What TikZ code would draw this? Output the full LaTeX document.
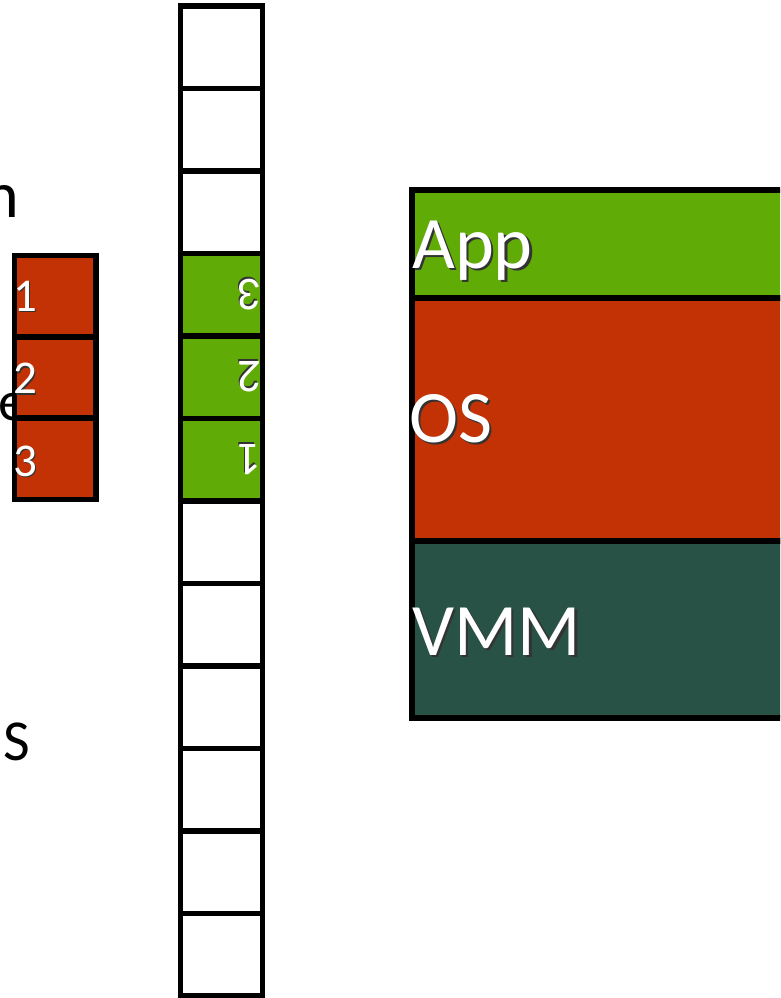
\documentclass[tikz,border=0pt]{standalone}
\usepackage{fontspec}
\setmainfont{Carlito}

\definecolor{appgreen}{HTML}{60AB05}
\definecolor{osred}{HTML}{C33205}
\definecolor{vmmgreen}{HTML}{285246}

% white text with a dark drop shadow
\newcommand{\shadowtxt}[1]{\rlap{\kern0.035em\raisebox{-0.035em}{\color{black!80}#1}}#1}

\tikzset{
  cell/.style={draw=black, line width=5.5pt},
  layer/.style={draw=black, line width=6pt},
  biglabel/.style={text=white, inner sep=0pt, font=\fontsize{74}{88}\selectfont},
  numlabel/.style={text=white, inner sep=0pt, font=\fontsize{47}{56}\selectfont},
  cutlabel/.style={text=black, inner sep=0pt},
}

\begin{document}
\begin{tikzpicture}[x=1pt, y=-1pt]
        \useasboundingbox (0,0) rectangle (780,998);
        \clip (0,0) rectangle (780,998);

        % Testo tagliato a sinistra
        \node[cutlabel, anchor=base east, font=\fontsize{66}{80}\selectfont] (cutn) at (19,217) {n};
        \node[cutlabel, anchor=base west, font=\fontsize{56}{68}\selectfont] (cute) at (-2,420) {e};
        \node[cutlabel, anchor=base west, font=\fontsize{58}{68}\selectfont] (cuts) at (3,760) {S};

        % Pagine del processo
        \foreach \n in {1,2,3}
            \draw[cell, fill=osred] (14.5,255.5+81.3*\n-81.3) rectangle (96,336.8+81.3*\n-81.3);
        \foreach \n in {1,2,3}
            \node[numlabel, anchor=base west] (p\n) at (13,311+82.5*\n-82.5) {\shadowtxt{\n}};

        % Memoria fisica
        \foreach \i in {0,...,11}
            \draw[cell, fill=white] (180.5,6+82.5*\i) rectangle (262.5,88.5+82.5*\i);
        \foreach \i in {3,4,5}
            \draw[cell, fill=appgreen] (180.5,6+82.5*\i) rectangle (262.5,88.5+82.5*\i);
        \foreach \n/\y in {3/279,2/361.5,1/444}
            \node[numlabel, rotate=180, anchor=base west] (m\n) at (262,\y) {\shadowtxt{\n}};

        % Livelli
        \draw[layer, fill=appgreen] (411.5,189.5) rectangle (790,297.5);
        \draw[layer, fill=osred] (411.5,297.5) rectangle (790,540.5);
        \draw[layer, fill=vmmgreen] (411.5,540.5) rectangle (790,717.5);
        \node[biglabel, anchor=base west] (app) at (412,268) {\shadowtxt{App}};
        \node[biglabel, anchor=base west] (os) at (409,442) {\shadowtxt{OS}};
        \node[biglabel, anchor=base west] (vmm) at (412,655) {\shadowtxt{VMM}};
    \end{tikzpicture}
\end{document}
